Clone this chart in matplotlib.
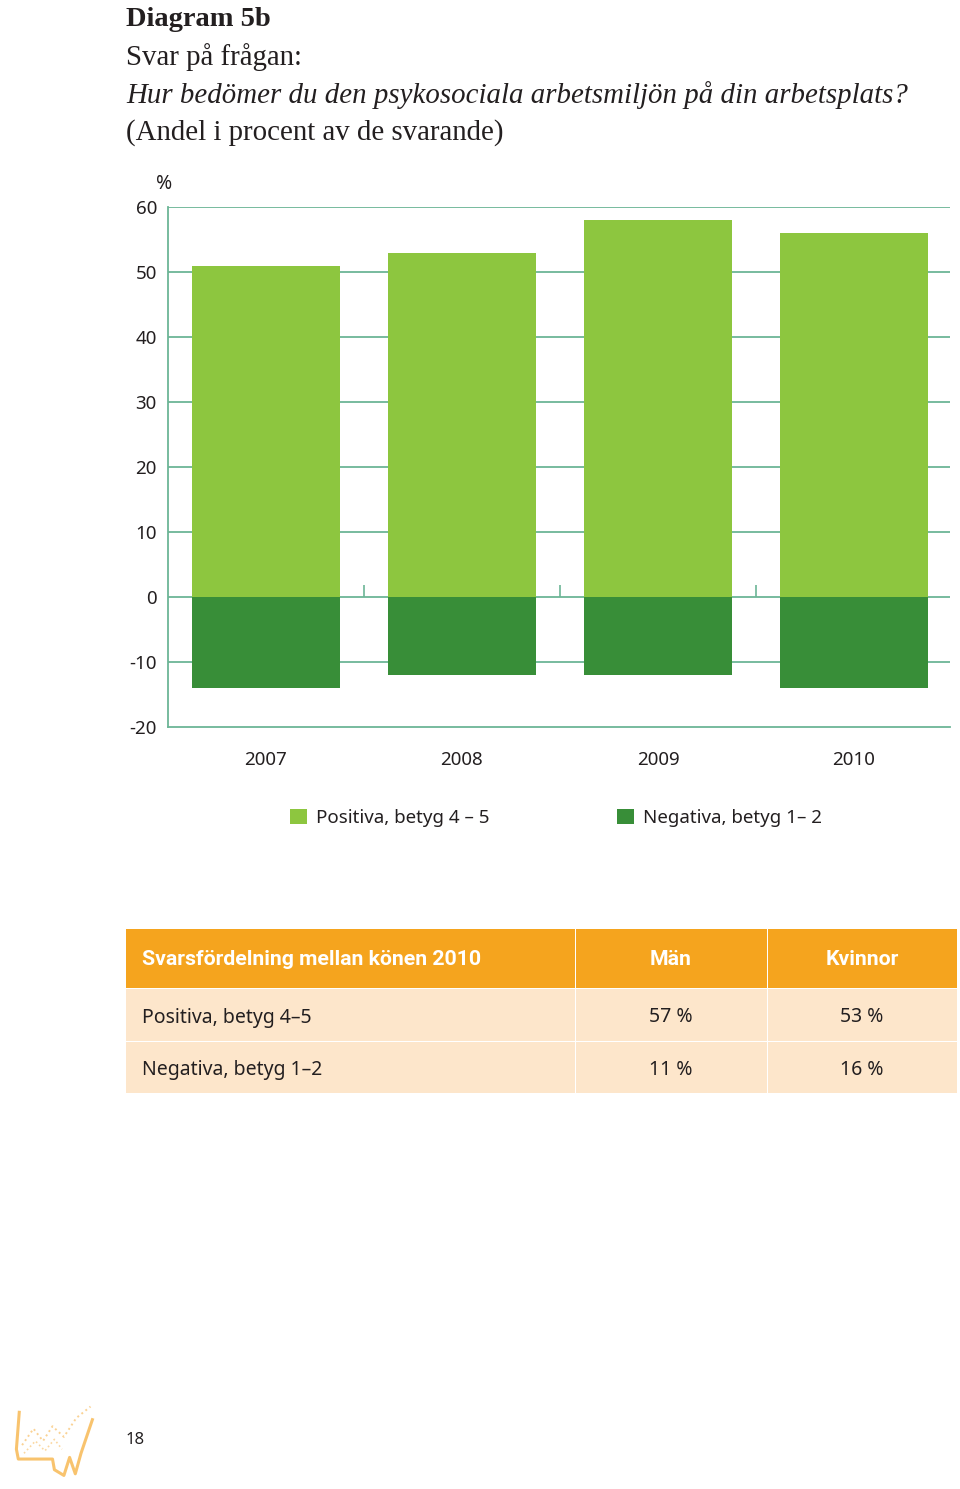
import matplotlib
matplotlib.use("Agg")
import matplotlib.pyplot as plt
from matplotlib.patches import Rectangle
import numpy as np

# values (percent)
years = ["2007", "2008", "2009", "2010"]
positive = [51, 53, 58, 56]
negative = [-14, -12, -12, -14]

legend_labels = ["Positiva, betyg 4 \u2013 5", "Negativa, betyg 1\u2013 2"]

# table below the chart
table_header = ["Svarsfördelning mellan könen 2010", "Män", "Kvinnor"]
table_rows = ["Positiva, betyg 4\u20135", "Negativa, betyg 1\u20132"]
men = [57, 11]
women = [53, 16]

light_green = "#8dc63f"
dark_green = "#388e38"
grid_col = "#6cb596"
orange = "#f5a41e"
peach = "#fde6cb"
ink = "#231f20"

W, H = 960, 1489
fig = plt.figure(figsize=(W / 100, H / 100), dpi=100)
sans = ["Noto Sans", "DejaVu Sans"]
bold_sans = ["Roboto", "DejaVu Sans"]
serif = ["Liberation Serif", "DejaVu Serif"]


def fx(px):
    return px / W


def fy(py):
    return 1 - py / H


# heading
fig.text(fx(126), fy(20), "Diagram 5b", family=serif, weight="bold", fontsize=20.5,
         color=ink, va="center")
fig.text(fx(126), fy(57), "Svar på frågan:", family=serif, fontsize=20.8, color=ink, va="center")
fig.text(fx(126), fy(95), "Hur bedömer du den psykosociala arbetsmiljön på din arbetsplats?",
         family=serif, style="italic", fontsize=20.8, color=ink, va="center")
fig.text(fx(126), fy(133), "(Andel i procent av de svarande)", family=serif, fontsize=20.8,
         color=ink, va="center")

# chart
ax = fig.add_axes([fx(168), fy(727), fx(950) - fx(168), fy(207) - fy(727)])
x = np.arange(len(years))
b1 = ax.bar(x, positive, width=0.755, color=light_green, zorder=2, label=legend_labels[0])
b2 = ax.bar(x, negative, width=0.755, color=dark_green, zorder=2, label=legend_labels[1])

ax.set_xlim(-0.5, 3.49)
ax.set_ylim(-20, 60)
for v in range(-10, 70, 10):
    ax.axhline(v, color=grid_col, lw=1.3, zorder=1)
# little separators at the zero line between years
ax.vlines(x + 0.5, 0, 1.8, color=grid_col, lw=1.2, zorder=1)

for side in ["top", "right"]:
    ax.spines[side].set_visible(False)
for side in ["left", "bottom"]:
    ax.spines[side].set_color(grid_col)
    ax.spines[side].set_linewidth(1.3)

ax.set_yticks(range(-20, 70, 10))
ax.set_yticklabels([str(v) for v in range(-20, 70, 10)], family=sans, fontsize=13.5, color=ink)
ax.tick_params(axis="y", length=0, pad=8)
for lab in ax.get_yticklabels():
    lab.set_va("center_baseline")
ax.set_xticks(x)
ax.set_xticklabels(years, family=sans, fontsize=13.5, color=ink)
ax.tick_params(axis="x", length=0, pad=17)

fig.text(fx(164), fy(184), "%", family=sans, fontsize=14, color=ink, ha="center", va="center")

leg = fig.legend(handles=[b1, b2], loc="center left", bbox_to_anchor=(fx(273), fy(818)),
                 ncol=2, frameon=False, prop={"family": sans, "size": 13.5},
                 handlelength=0.9, handleheight=0.9, handletextpad=0.5,
                 columnspacing=6.8, labelcolor=ink)

# table
col_x = [126, 576, 768, 958]
row_y = [928, 988, 1041, 1093]
for r in range(3):
    for c in range(3):
        x0, x1 = col_x[c], col_x[c + 1]
        y0, y1 = row_y[r], row_y[r + 1]
        fc = orange if r == 0 else peach
        fig.patches.append(Rectangle((fx(x0), fy(y1)), fx(x1 - x0) - 0.0015, fy(y0) - fy(y1) - 0.0008,
                                     transform=fig.transFigure, facecolor=fc,
                                     edgecolor="none", zorder=0))

fig.text(fx(142), fy(960), table_header[0], family=bold_sans, weight="bold", fontsize=15.3,
         color="white", va="center")
fig.text(fx(671), fy(960), table_header[1], family=bold_sans, weight="bold", fontsize=15.3,
         color="white", va="center", ha="center")
fig.text(fx(862), fy(960), table_header[2], family=bold_sans, weight="bold", fontsize=15.3,
         color="white", va="center", ha="center")
for i, lab in enumerate(table_rows):
    yc = (row_y[i + 1] + row_y[i + 2]) / 2 + 3
    fig.text(fx(142), fy(yc), lab, family=sans, fontsize=14, color=ink, va="center")
    fig.text(fx(671), fy(yc), f"{men[i]} %", family=sans, fontsize=14, color=ink,
             va="center", ha="center")
    fig.text(fx(862), fy(yc), f"{women[i]} %", family=sans, fontsize=14, color=ink,
             va="center", ha="center")

# page number and small decorative logo
fig.text(fx(126), fy(1440), "18", family=sans, fontsize=12, color=ink, va="center")
logo = fig.add_axes([fx(5), fy(1482), fx(95), fy(1400) - fy(1482)])
logo.axis("off")
logo.set_xlim(0, 10)
logo.set_ylim(0, 10)
logo.plot([1.5, 1.2, 1.4, 5.0, 5.2, 6.2, 6.8, 7.4, 8.0, 9.2],
          [8.5, 4.0, 2.8, 2.8, 1.5, 0.8, 3.0, 1.0, 3.5, 7.6], color="#f7b54a", lw=2.2, alpha=0.8)
logo.plot([1.8, 3.0, 4.0, 5.0, 6.2, 7.5, 9.0],
          [4.5, 6.5, 5.0, 6.8, 5.5, 7.8, 9.2], color="#f9c77a", lw=1.4, ls=":", alpha=0.8)
logo.plot([2.0, 3.2, 4.2, 5.2, 6.0], [3.5, 5.0, 3.8, 5.2, 4.0], color="#f9c77a", lw=1.2,
          ls=":", alpha=0.7)

fig.savefig("out.png", dpi=100, facecolor="white")
